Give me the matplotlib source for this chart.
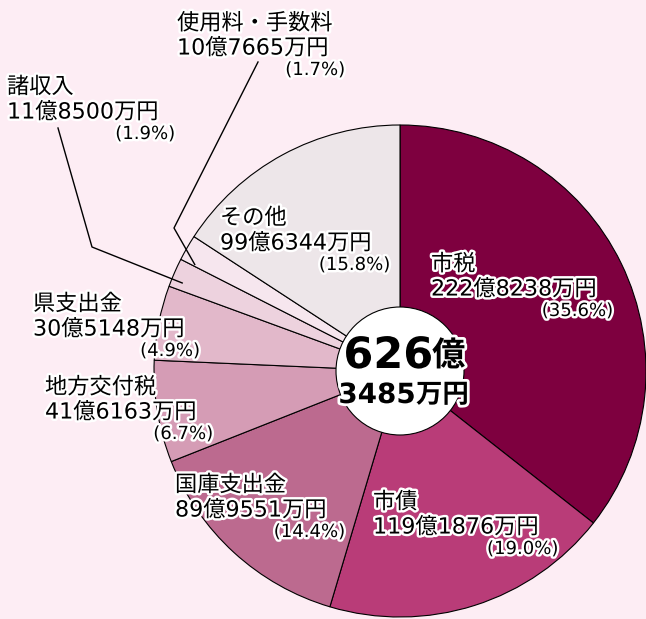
import numpy as np
import matplotlib
matplotlib.use("Agg")
import matplotlib.pyplot as plt
import matplotlib.patheffects as pe
from matplotlib.patches import Circle

plt.rcParams['font.family'] = ['DejaVu Sans', 'Noto Sans CJK JP']

# ---- data ----
categories = ["市税", "市債", "国庫支出金", "地方交付税", "県支出金", "諸収入", "使用料・手数料", "その他"]
amounts = ["222億8238万円", "119億1876万円", "89億9551万円", "41億6163万円",
           "30億5148万円", "11億8500万円", "10億7665万円", "99億6344万円"]
percents = [35.6, 19.0, 14.4, 6.7, 4.9, 1.9, 1.7, 15.8]
total_oku = "626"
total_man = "3485"

# ---- style / layout ----
colors = ["#7e003f", "#b93c78", "#bc6a8f", "#d59cb5", "#e2b8ca", "#edd2de", "#f6e6ee", "#ede6e9"]
bg = "#fdedf4"
W, H = 646, 619
cx, cy, R = 400, 371, 246       # pixel layout (y from top)
r_in = 64
# label layout: (left x, first-line centre y, percent right x)  in pixels from top-left
label_pos = [(431, 264, 613), (373, 502, 558), (175, 485, 345), (45, 387, 213),
             (33, 304, 200), (7, 87, 175), (177, 23, 345), (220, 218, 390)]
# leader lines (start, bend) for small slices, end goes into wedge
leaders = {5: [(58, 128), (92, 247)], 6: [(258, 62), (174, 228)]}
leader_frac = {5: (0.73, 0.955), 6: (0.93, 0.94)}

fig = plt.figure(figsize=(W / 100, H / 100), dpi=100)
fig.patch.set_facecolor(bg)
ax = fig.add_axes([0, 0, 1, 1])
ax.set_facecolor(bg)

def py(y):
    return H - y

wedges, _ = ax.pie(percents, colors=colors, startangle=90, counterclock=False,
                   center=(cx, py(cy)), radius=R,
                   wedgeprops=dict(edgecolor="black", linewidth=0.8))
ax.set_xlim(0, W)
ax.set_ylim(0, H)
ax.set_aspect('auto')
ax.axis('off')

ax.add_patch(Circle((cx, py(cy)), r_in, facecolor="white", edgecolor="black", linewidth=0.8, zorder=5))

stroke = [pe.withStroke(linewidth=3.5, foreground="white")]
for i, (cat, amt, pct) in enumerate(zip(categories, amounts, percents)):
    x, y, xr = label_pos[i]
    ax.text(x, py(y), cat, fontsize=16, ha="left", va="center", color="black", path_effects=stroke, zorder=6)
    ax.text(x, py(y + 25), amt, fontsize=16, ha="left", va="center", color="black", path_effects=stroke, zorder=6)
    ax.text(xr, py(y + 47), f"({pct:.1f}%)", fontsize=13, ha="right", va="center", color="black",
            path_effects=stroke, zorder=6)

# leader lines
for i, pts in leaders.items():
    w = wedges[i]
    f, rf = leader_frac[i]
    ang = np.deg2rad(w.theta1 + f * (w.theta2 - w.theta1))
    ex = cx + rf * R * np.cos(ang)
    ey = py(cy) + rf * R * np.sin(ang)
    xs = [p[0] for p in pts] + [ex]
    ys = [py(p[1]) for p in pts] + [ey]
    ax.plot(xs, ys, color="black", linewidth=1.0, zorder=4)

stroke_c = [pe.withStroke(linewidth=4, foreground="white")]
split1, split2 = 433, 416
ax.text(split1, py(cy - 15), total_oku, fontsize=31, fontweight="bold", ha="right", va="center",
        family="DejaVu Sans", path_effects=stroke_c, zorder=7)
ax.text(split1 - 1, py(cy - 15), "億", fontsize=24, fontweight="bold", ha="left", va="center",
        family="Noto Sans CJK JP", path_effects=stroke_c, zorder=7)
ax.text(split2, py(cy + 24), total_man, fontsize=20, fontweight="bold", ha="right", va="center",
        family="DejaVu Sans", path_effects=stroke_c, zorder=7)
ax.text(split2, py(cy + 24), "万円", fontsize=19, fontweight="bold", ha="left", va="center",
        family="Noto Sans CJK JP", path_effects=stroke_c, zorder=7)

fig.savefig("out.png", dpi=100, facecolor=bg)
